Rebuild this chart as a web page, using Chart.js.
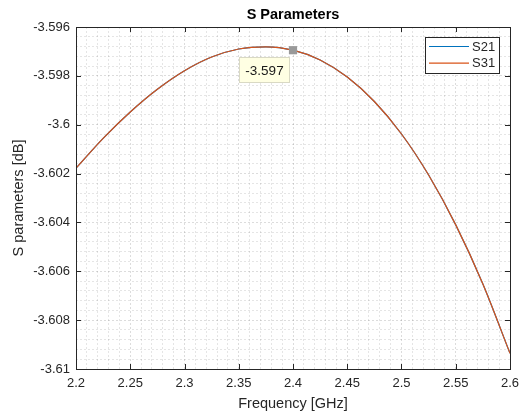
<!DOCTYPE html>
<html lang="en">
<head>
    <meta charset="UTF-8">
    <title>S Parameters</title>
    <script src="https://cdn.jsdelivr.net/npm/chart.js"></script>
    <style>
        body { margin: 0; background: #fff; }
    </style>
</head>
<body>
    <canvas id="sChart" width="519" height="413"></canvas>

    <script>
        // frequency points [GHz] and S parameters [dB]
        const freq = [2.2, 2.225, 2.25, 2.275, 2.3, 2.325, 2.35, 2.375, 2.4,
                      2.425, 2.45, 2.475, 2.5, 2.525, 2.55, 2.575, 2.6];
        const s21 = [-3.60178, -3.60056, -3.59948, -3.59855, -3.59779, -3.59723, -3.59690, -3.59681, -3.59695,
                     -3.59735, -3.59805, -3.59905, -3.60038, -3.60206, -3.60410, -3.60652, -3.60936];
        const s31 = [-3.60178, -3.60056, -3.59948, -3.59855, -3.59779, -3.59723, -3.59690, -3.59681, -3.59695,
                     -3.59735, -3.59805, -3.59905, -3.60038, -3.60206, -3.60410, -3.60652, -3.60936];
        const tipFreq = 2.4;

        const xMajor = 0.05;
        const yMajor = 0.002;
        const axisColor = '#262626';
        const fontName = '"Liberation Sans", Arial, Helvetica, sans-serif';

        function isMajor(v, step) {
            const r = v / step;
            return Math.abs(r - Math.round(r)) < 1e-6;
        }

        const tipIndex = freq.indexOf(tipFreq);

        // box, inside tick marks, legend and data tip, MATLAB style
        const matlabAxes = {
            id: 'matlabAxes',
            afterDatasetsDraw(chart) {
                const ctx = chart.ctx;
                const a = chart.chartArea;
                const xs = chart.scales.x;
                const ys = chart.scales.y;
                ctx.save();
                ctx.strokeStyle = axisColor;
                ctx.lineWidth = 1;
                ctx.beginPath();
                xs.ticks.forEach(t => {
                    if (!isMajor(t.value, xMajor)) return;
                    const px = Math.round(xs.getPixelForValue(t.value)) + 0.5;
                    ctx.moveTo(px, a.bottom); ctx.lineTo(px, a.bottom - 5);
                    ctx.moveTo(px, a.top); ctx.lineTo(px, a.top + 5);
                });
                ys.ticks.forEach(t => {
                    if (!isMajor(t.value, yMajor)) return;
                    const py = Math.round(ys.getPixelForValue(t.value)) + 0.5;
                    ctx.moveTo(a.left, py); ctx.lineTo(a.left + 5, py);
                    ctx.moveTo(a.right, py); ctx.lineTo(a.right - 5, py);
                });
                ctx.stroke();
                ctx.strokeRect(Math.round(a.left) + 0.5, Math.round(a.top) + 0.5,
                               Math.round(a.right - a.left), Math.round(a.bottom - a.top));
                ctx.restore();
            },
            afterDraw(chart) {
                const ctx = chart.ctx;
                const a = chart.chartArea;
                ctx.save();

                // legend
                const lines = chart.data.datasets.filter(d => d.label !== 'tip');
                const lx = a.right - 85, ly = a.top + 10, lw = 74, lh = 36;
                ctx.fillStyle = '#fff';
                ctx.fillRect(lx, ly, lw, lh);
                ctx.strokeStyle = axisColor;
                ctx.lineWidth = 1;
                ctx.strokeRect(lx + 0.5, ly + 0.5, lw, lh);
                ctx.font = '13px ' + fontName;
                ctx.textBaseline = 'middle';
                lines.forEach((d, i) => {
                    const yy = ly + 9.5 + i * 16.7;
                    ctx.strokeStyle = d.borderColor;
                    ctx.lineWidth = 1.2;
                    ctx.beginPath();
                    ctx.moveTo(lx + 4, yy); ctx.lineTo(lx + 44, yy);
                    ctx.stroke();
                    ctx.fillStyle = axisColor;
                    ctx.fillText(d.label, lx + 47, yy + 0.5);
                });

                // data tip
                const px = chart.scales.x.getPixelForValue(freq[tipIndex]);
                const py = chart.scales.y.getPixelForValue(s31[tipIndex]);
                const bx = Math.round(px - 54), by = Math.round(py + 7);
                ctx.fillStyle = '#ffffe3';
                ctx.fillRect(bx, by, 51, 26);
                ctx.strokeStyle = '#d9d9c4';
                ctx.lineWidth = 1;
                ctx.strokeRect(bx + 0.5, by + 0.5, 50, 25);
                ctx.fillStyle = '#1a1a1a';
                ctx.font = '13.5px ' + fontName;
                ctx.textAlign = 'center';
                ctx.fillText(s31[tipIndex].toFixed(3), bx + 25.5, by + 14);
                ctx.restore();
            }
        };

        new Chart(document.getElementById('sChart'), {
            type: 'line',
            data: {
                datasets: [
                    {
                        label: 'S21',
                        data: freq.map((f, i) => ({ x: f, y: s21[i] })),
                        borderColor: '#0072BD',
                        borderWidth: 1.2,
                        pointRadius: 0,
                        cubicInterpolationMode: 'monotone',
                        order: 2
                    },
                    {
                        label: 'S31',
                        data: freq.map((f, i) => ({ x: f, y: s31[i] })),
                        borderColor: '#D95319',
                        borderWidth: 1.2,
                        pointRadius: 0,
                        cubicInterpolationMode: 'monotone',
                        order: 1
                    },
                    {
                        label: 'tip',
                        data: [{ x: freq[tipIndex], y: s31[tipIndex] }],
                        showLine: false,
                        pointStyle: 'rect',
                        pointRadius: 5.8,
                        pointBackgroundColor: '#999999',
                        pointBorderColor: '#999999',
                        pointBorderWidth: 0,
                        order: 0
                    }
                ]
            },
            options: {
                responsive: false,
                animation: false,
                layout: { padding: { left: 0, right: 9, top: 0, bottom: 0 } },
                plugins: {
                    legend: { display: false },
                    tooltip: { enabled: false },
                    title: {
                        display: true,
                        text: 'S Parameters',
                        fullSize: false,
                        color: '#000',
                        font: { family: fontName, size: 14.5, weight: 'bold' },
                        padding: { top: 6, bottom: 3.6 }
                    }
                },
                scales: {
                    x: {
                        type: 'linear',
                        min: 2.2,
                        max: 2.6,
                        afterFit(scale) {
                            scale.height = 44;
                            scale.paddingLeft = 0;
                            scale.paddingRight = 0;
                        },
                        ticks: {
                            stepSize: 0.01,
                            autoSkip: false,
                            maxRotation: 0,
                            padding: 7,
                            color: axisColor,
                            font: { family: fontName, size: 13 },
                            callback: v => isMajor(v, xMajor) ? String(Number(v.toFixed(3))) : ''
                        },
                        grid: {
                            drawTicks: false,
                            color: ctx => isMajor(ctx.tick.value, xMajor) ? 'rgba(38,38,38,0.16)' : 'rgba(38,38,38,0.12)'
                        },
                        border: { display: false, dash: [2, 2] },
                        title: {
                            display: true,
                            text: 'Frequency [GHz]',
                            color: axisColor,
                            font: { family: fontName, size: 14.5 },
                            padding: { top: 0, bottom: 0 }
                        }
                    },
                    y: {
                        min: -3.61,
                        max: -3.596,
                        afterFit(scale) {
                            scale.width = 76;
                            scale.paddingTop = 0;
                            scale.paddingBottom = 0;
                        },
                        ticks: {
                            stepSize: 0.0004,
                            autoSkip: false,
                            padding: 6,
                            color: axisColor,
                            font: { family: fontName, size: 13 },
                            callback: v => isMajor(v, yMajor) ? String(Number(v.toFixed(4))) : ''
                        },
                        grid: {
                            drawTicks: false,
                            color: ctx => isMajor(ctx.tick.value, yMajor) ? 'rgba(38,38,38,0.16)' : 'rgba(38,38,38,0.12)'
                        },
                        border: { display: false, dash: [2, 2] },
                        title: {
                            display: true,
                            text: 'S parameters [dB]',
                            color: axisColor,
                            font: { family: fontName, size: 14.5 },
                            padding: { top: 10, bottom: 0 }
                        }
                    }
                }
            },
            plugins: [matlabAxes]
        });
    </script>
</body>
</html>
